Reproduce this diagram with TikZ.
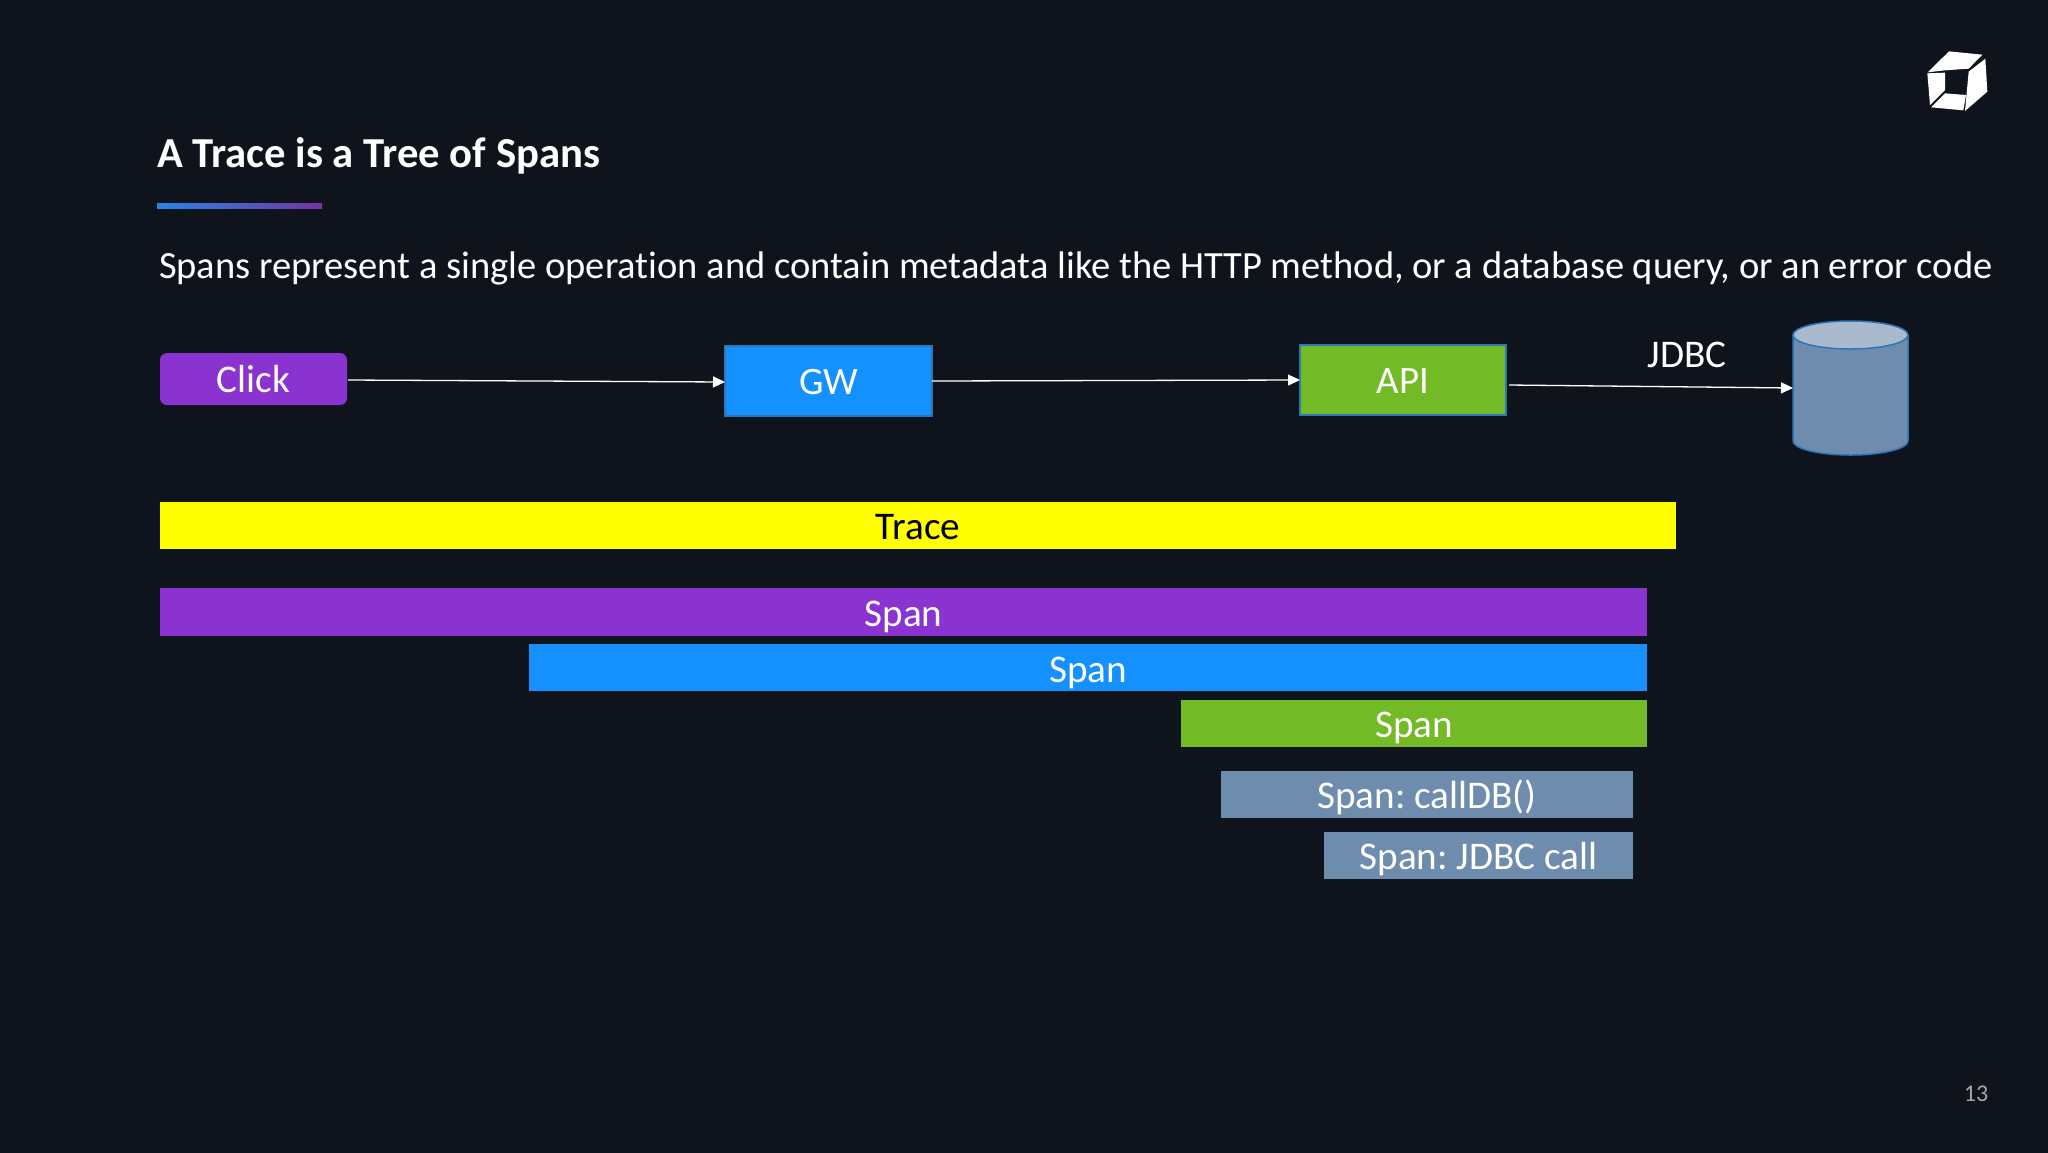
\documentclass[tikz,border=0pt]{standalone}
\usepackage{fontspec}
\setmainfont[Ligatures=NoCommon]{Carlito}
\usetikzlibrary{arrows.meta,positioning}
\definecolor{bgc}{HTML}{0F141C}
\definecolor{purp}{HTML}{8A33D0}
\definecolor{blu}{HTML}{1490FF}
\definecolor{grn}{HTML}{72BB26}
\definecolor{slate}{HTML}{6E8CAD}
\definecolor{slatel}{HTML}{A9BACF}
\definecolor{edgeb}{HTML}{2E75B6}
\definecolor{ulA}{HTML}{2A83E8}
\definecolor{ulB}{HTML}{74359F}
\definecolor{yel}{HTML}{FFFF00}
\newcommand{\barfs}{\fontsize{39.2}{42}\selectfont}
\newcommand{\flowfs}{\fontsize{38.8}{42}\selectfont}
\tikzset{
  x=1pt,y=-1pt,
  every node/.style={inner sep=0pt,outer sep=0pt,text=white},
  barbox/.style={anchor=north west,minimum height=47pt,text height=28pt,text depth=0pt,font=\barfs},
  flowbox/.style={anchor=north west,draw=edgeb,line width=1.4pt,text height=27pt,text depth=0pt,font=\flowfs},
  flowline/.style={draw=white,line width=1.3pt,-{Triangle[length=12pt,width=11pt]}},
}
\begin{document}
\frenchspacing
\begin{tikzpicture}
\useasboundingbox (0,0) rectangle (2048,1152);
\fill[bgc] (-6,-6) rectangle (2054,1158);
% title
\node[anchor=base west,font=\fontsize{42.7}{46}\selectfont\bfseries] (title) at (157,167) {A Trace is a Tree of Spans};
\shade[left color=ulA,right color=ulB] (157,203) rectangle (322,208.5);
\node[anchor=base west,font=\fontsize{38.5}{42}\selectfont] (sub) at (159,278) {Spans represent a single operation and contain metadata like the HTTP method, or a database query, or an error code};
% logo
\begin{scope}[shift={(1880,30)},x=0.3333pt,y=-0.3333pt]
\fill[white] (143,127) -- (207,64) -- (307,74) -- (266,116) -- (195,121) -- cycle;
\fill[white] (316,86) -- (322,185) -- (255,243) -- (266,125) -- cycle;
\fill[white] (153,232) -- (195,190) -- (258,195) -- (250,241) -- cycle;
\fill[white] (142,130) -- (195,128) -- (195,180) -- (150,225) -- cycle;
\end{scope}
% flow
\node[anchor=north west,fill=purp,rounded corners=7pt,minimum width=187pt,minimum height=52pt,text height=27pt,text depth=0pt,font=\barfs] (click) at (160,353) {Click};
\node[flowbox,fill=blu,minimum width=207pt,minimum height=70pt] (gw) at (725,346) {GW};
\node[flowbox,fill=grn,minimum width=206pt,minimum height=70pt] (api) at (1300,345) {API};
\node[minimum width=115pt,minimum height=134pt] (db) at (1850.5,388) {};
\path[draw=edgeb,line width=1.5pt,fill=slate] (1793,335) -- (1793,441) arc[start angle=180,end angle=360,x radius=57.5pt,y radius=14pt] -- (1908,335) -- cycle;
\path[draw=edgeb,line width=1.5pt,fill=slatel] (1850.5,335) ellipse [x radius=57.5pt,y radius=14pt];
\node[font=\barfs,text height=27pt,text depth=0pt] (jdbc) at (1687,354) {JDBC};
\draw[flowline] ([xshift=1pt,yshift=-1pt]click.east) -- ([yshift=-1pt]gw.west);
\draw[flowline] (gw.east) -- (api.west);
\draw[flowline] ([xshift=3pt,yshift=-5pt]api.east) -- (db.west);
% bars
\node[barbox,fill=yel,minimum width=1516pt,text=black] (trace) at (160,502) {Trace};
\node[barbox,fill=purp,minimum width=1487pt,minimum height=48pt] (s1) at (160,588) {Span};
\node[barbox,fill=blu,minimum width=1118pt,text height=29pt] (s2) at (529,644) {Span};
\node[barbox,fill=grn,minimum width=466pt] (s3) at (1181,700) {Span};
\node[barbox,fill=slate,minimum width=412pt] (s4) at (1221,771) {Span: callDB()};
\node[barbox,fill=slate,minimum width=309pt] (s5) at (1324,832) {Span: JDBC call};
\node[font=\fontsize{24}{26}\selectfont,text=white!62!bgc] (page) at (1976,1094) {13};
\end{tikzpicture}
\end{document}
